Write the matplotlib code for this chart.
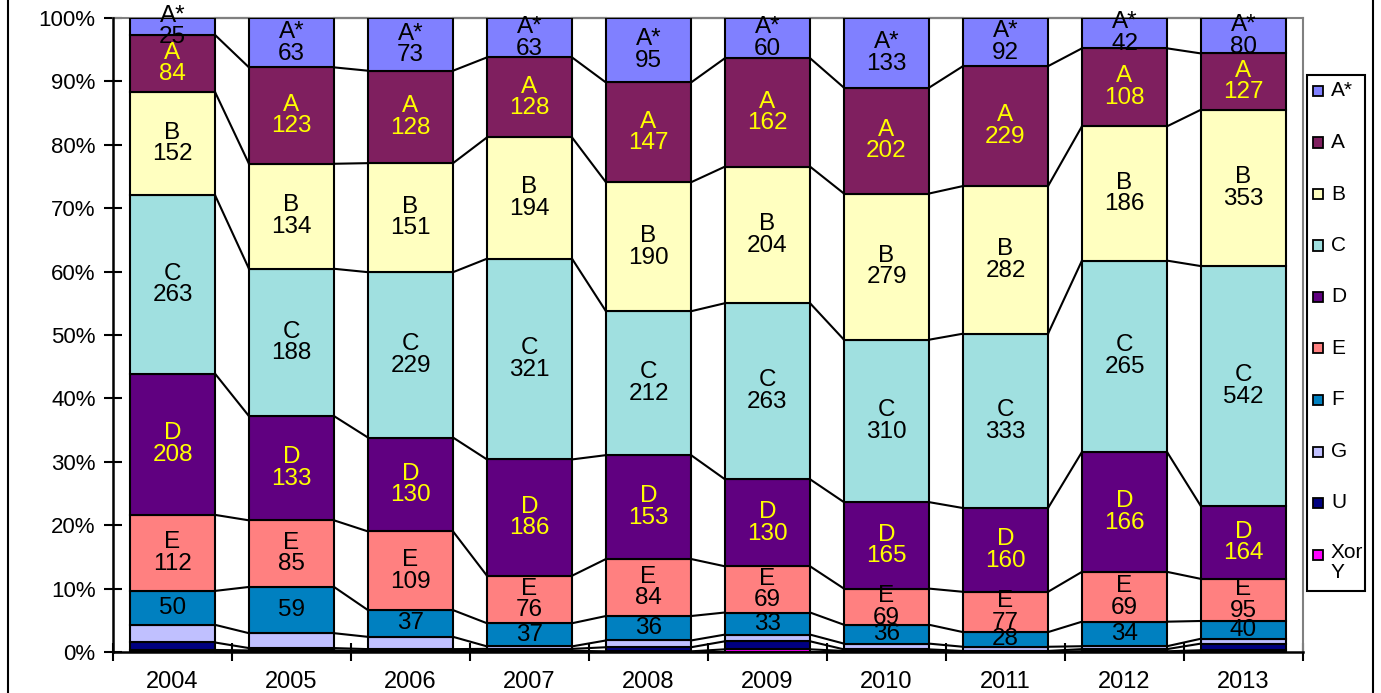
import matplotlib.pyplot as plt
import numpy as np
from matplotlib.patches import Rectangle

plt.rcParams['font.family'] = ['Liberation Sans', 'DejaVu Sans']

# grade counts per year (bottom series first)
years = ["2004", "2005", "2006", "2007", "2008", "2009", "2010", "2011", "2012", "2013"]
grades = ["Xor Y", "U", "G", "F", "E", "D", "C", "B", "A", "A*"]

xy_counts = [3, 2, 2, 2, 1, 4, 2, 1, 1, 4]
u_counts = [11, 3, 2, 3, 6, 12, 3, 1, 3, 15]
g_counts = [26, 19, 17, 4, 10, 10, 11, 8, 4, 11]
f_counts = [50, 59, 37, 37, 36, 33, 36, 28, 34, 40]
e_counts = [112, 85, 109, 76, 84, 69, 69, 77, 69, 95]
d_counts = [208, 133, 130, 186, 153, 130, 165, 160, 166, 164]
c_counts = [263, 188, 229, 321, 212, 263, 310, 333, 265, 542]
b_counts = [152, 134, 151, 194, 190, 204, 279, 282, 186, 353]
a_counts = [84, 123, 128, 128, 147, 162, 202, 229, 108, 127]
astar_counts = [25, 63, 73, 63, 95, 60, 133, 92, 42, 80]

series = [xy_counts, u_counts, g_counts, f_counts, e_counts,
          d_counts, c_counts, b_counts, a_counts, astar_counts]
colours = ["#FF00FF", "#000080", "#C0C0FF", "#0080C0", "#FF8080",
           "#600080", "#A0E0E0", "#FFFFC0", "#7F1F5F", "#8080FF"]
label_col = ["black", "black", "black", "black", "black",
             "#FFFF00", "black", "black", "#FFFF00", "black"]
# 0 = no label, 1 = value only, 2 = grade + value
label_kind = [0, 0, 0, 1, 2, 2, 2, 2, 2, 2]

counts = np.array(series, dtype=float)
pct = counts / counts.sum(axis=0) * 100
cum = np.vstack([np.zeros(len(years)), np.cumsum(pct, axis=0)])

fig = plt.figure(figsize=(13.81, 6.93), dpi=100)
W, H = 1381, 693
ax = fig.add_axes([113 / W, 1 - 652 / H, (1303 - 113) / W, (652 - 18) / H])

x = np.arange(len(years))
bw = 0.715

for k in range(len(grades)):
    ax.bar(x, pct[k], bw, bottom=cum[k], color=colours[k], edgecolor="black",
           linewidth=1.5, zorder=3)
    if label_kind[k] == 0:
        continue
    for i in range(len(years)):
        if label_kind[k] == 2:
            txt = "%s\n%d" % (grades[k], series[k][i])
        else:
            txt = "%d" % series[k][i]
        ax.text(x[i], cum[k][i] + pct[k][i] / 2, txt,
                ha="center", va="center", fontsize=17.5, color=label_col[k],
                linespacing=0.98, zorder=5, clip_on=False)

# series lines between bars
for k in range(len(grades) + 1):
    for i in range(len(years) - 1):
        ax.plot([x[i] + bw / 2, x[i + 1] - bw / 2], [cum[k][i], cum[k][i + 1]],
                color="black", linewidth=1.5, zorder=2, clip_on=False)

ax.set_xlim(-0.5, len(years) - 0.5)
ax.set_ylim(0, 100)
ax.set_yticks(np.arange(0, 101, 10))
ax.set_yticklabels(["%d%%" % v for v in range(0, 101, 10)], fontsize=16)
ax.set_xticks(np.arange(-0.5, len(years), 1))
ax.set_xticklabels([])
ax.set_xticks(x, minor=True)
ax.set_xticklabels(years, minor=True, fontsize=17)
ax.tick_params(axis="x", which="minor", length=0, pad=14)
ax.tick_params(axis="both", which="major", direction="inout", length=13, width=1.5)
ax.tick_params(axis="y", pad=6)

for s in ["top", "right"]:
    ax.spines[s].set_color("#808080")
    ax.spines[s].set_linewidth(1.5)
for s in ["left", "bottom"]:
    ax.spines[s].set_color("black")
    ax.spines[s].set_linewidth(1.8)
    ax.spines[s].set_zorder(6)

# legend box drawn by hand (A* at the top), narrow like the original
fig.patches.append(Rectangle((1307 / W, 1 - 591 / H), 58 / W, 516 / H, transform=fig.transFigure,
                             fill=False, edgecolor="black", linewidth=1.5))
for j, k in enumerate(range(len(grades) - 1, -1, -1)):
    yc = 91 + 51.5 * j
    fig.patches.append(Rectangle((1313 / W, 1 - (yc + 5) / H), 10 / W, 10 / H,
                                 transform=fig.transFigure, facecolor=colours[k],
                                 edgecolor="black", linewidth=1.3))
    if grades[k] == "Xor Y":
        fig.text(1331 / W, 1 - (yc - 11) / H, "Xor\nY", fontsize=15, ha="left", va="top",
                 linespacing=1.0)
    else:
        fig.text(1331 / W, 1 - yc / H, grades[k], fontsize=15, ha="left", va="center")

# outer chart border
fig.patches.append(Rectangle((8 / W, -0.02), (1373 - 8) / W, 1.04, transform=fig.transFigure,
                             fill=False, edgecolor="black", linewidth=1.5))

fig.savefig("out.png", dpi=100)
